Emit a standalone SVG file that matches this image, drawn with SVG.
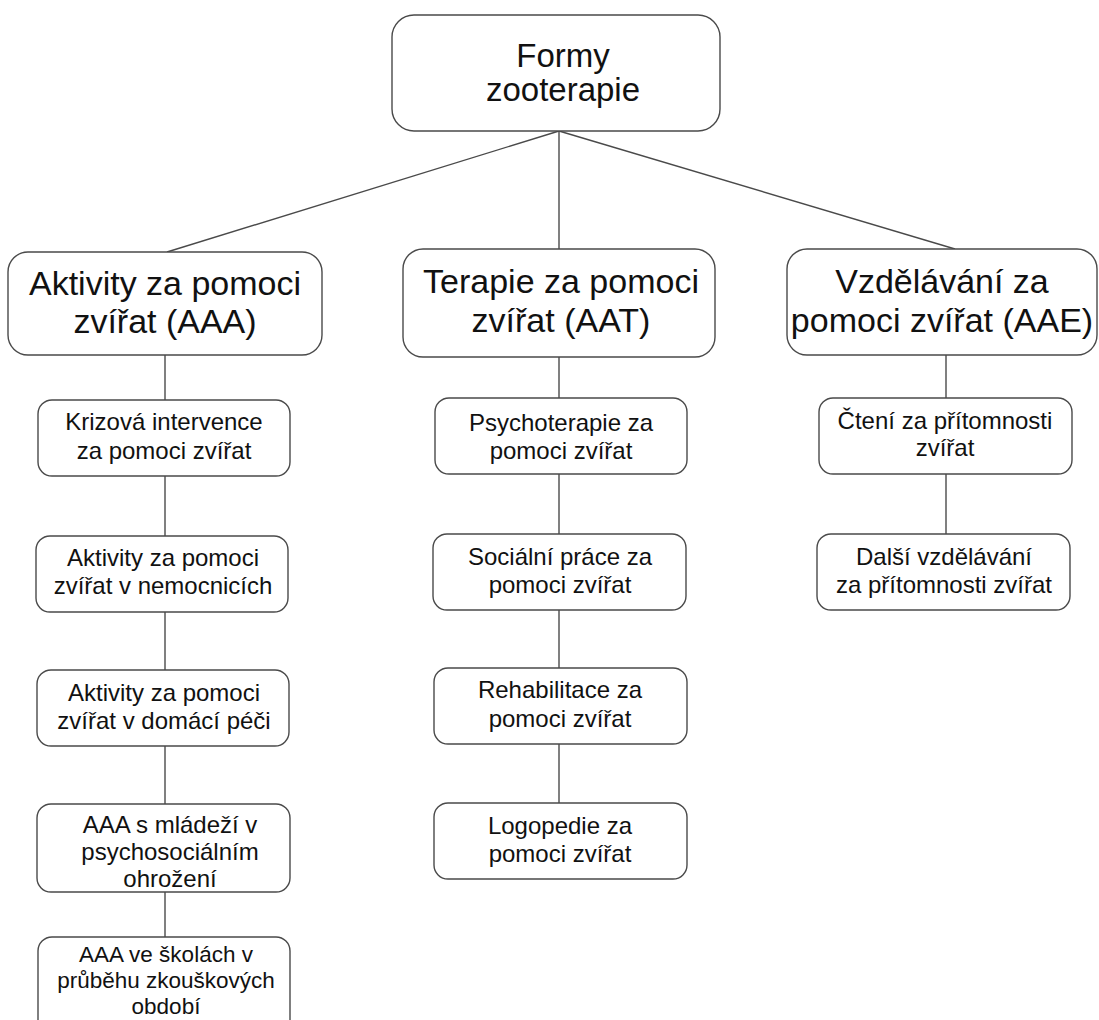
<svg xmlns="http://www.w3.org/2000/svg" width="1099" height="1020" viewBox="0 0 1099 1020">
<style>
.box{fill:#fff;stroke:#4a4a4a;stroke-width:1.4}
.ln{stroke:#4a4a4a;stroke-width:1.4;fill:none}
text{font-family:"Liberation Sans",Arial,sans-serif;fill:#111;text-anchor:middle}
.t1{font-size:33px}
.t2{font-size:34px}
.t3{font-size:24px}
.t4{font-size:22.5px}
</style>
<rect width="1099" height="1020" fill="#fff"/>
<g id="connectors">
<line class="ln" x1="559" y1="131" x2="167" y2="252"/>
<line class="ln" x1="559" y1="131" x2="559" y2="249"/>
<line class="ln" x1="559" y1="131" x2="955" y2="249"/>
<line class="ln" x1="165" y1="355" x2="165" y2="400"/>
<line class="ln" x1="165" y1="476" x2="165" y2="536"/>
<line class="ln" x1="165" y1="612" x2="165" y2="670"/>
<line class="ln" x1="165" y1="746" x2="165" y2="804"/>
<line class="ln" x1="165" y1="892" x2="165" y2="937"/>
<line class="ln" x1="559" y1="357" x2="559" y2="398"/>
<line class="ln" x1="559" y1="474" x2="559" y2="534"/>
<line class="ln" x1="559" y1="610" x2="559" y2="668"/>
<line class="ln" x1="559" y1="744" x2="559" y2="803"/>
<line class="ln" x1="946" y1="355" x2="946" y2="398"/>
<line class="ln" x1="946" y1="474" x2="946" y2="534"/>
</g>
<g id="root">
<rect class="box" x="392" y="15" width="328" height="116" rx="22"/>
<text class="t1" x="563" y="67">Formy</text>
<text class="t1" x="563" y="101">zooterapie</text>
</g>
<g id="aaa">
<rect class="box" x="8" y="252" width="314" height="103" rx="20"/>
<text class="t2" x="165" y="295">Aktivity za pomoci</text>
<text class="t2" x="165" y="333">zvířat (AAA)</text>
</g>
<g id="aat">
<rect class="box" x="403" y="249" width="312" height="108" rx="20"/>
<text class="t2" x="561" y="293">Terapie za pomoci</text>
<text class="t2" x="561" y="332">zvířat (AAT)</text>
</g>
<g id="aae">
<rect class="box" x="787" y="249" width="310" height="106" rx="20"/>
<text class="t2" x="942" y="293">Vzdělávání za</text>
<text class="t2" x="942" y="332">pomoci zvířat (AAE)</text>
</g>
<g id="aaa1">
<rect class="box" x="38" y="400" width="252" height="76" rx="14"/>
<text class="t3" x="164" y="430">Krizová intervence</text>
<text class="t3" x="164" y="459">za pomoci zvířat</text>
</g>
<g id="aaa2">
<rect class="box" x="36" y="536" width="252" height="76" rx="14"/>
<text class="t3" x="163" y="566">Aktivity za pomoci</text>
<text class="t3" x="163" y="594">zvířat v nemocnicích</text>
</g>
<g id="aaa3">
<rect class="box" x="37" y="670" width="252" height="76" rx="14"/>
<text class="t3" x="164" y="701">Aktivity za pomoci</text>
<text class="t3" x="164" y="729">zvířat v domácí péči</text>
</g>
<g id="aaa4">
<rect class="box" x="37" y="804" width="253" height="88" rx="14"/>
<text class="t3" x="170" y="833">AAA s mládeží v</text>
<text class="t3" x="170" y="860">psychosociálním</text>
<text class="t3" x="170" y="887">ohrožení</text>
</g>
<g id="aaa5">
<rect class="box" x="38" y="937" width="252" height="100" rx="14"/>
<text class="t4" x="166" y="962">AAA ve školách v</text>
<text class="t4" x="166" y="988">průběhu zkouškových</text>
<text class="t4" x="166" y="1014">období</text>
</g>
<g id="aat1">
<rect class="box" x="435" y="398" width="252" height="76" rx="14"/>
<text class="t3" x="561" y="431">Psychoterapie za</text>
<text class="t3" x="561" y="459">pomoci zvířat</text>
</g>
<g id="aat2">
<rect class="box" x="433" y="534" width="253" height="76" rx="14"/>
<text class="t3" x="560" y="565">Sociální práce za</text>
<text class="t3" x="560" y="593">pomoci zvířat</text>
</g>
<g id="aat3">
<rect class="box" x="434" y="668" width="253" height="76" rx="14"/>
<text class="t3" x="560" y="698">Rehabilitace za</text>
<text class="t3" x="560" y="727">pomoci zvířat</text>
</g>
<g id="aat4">
<rect class="box" x="434" y="803" width="253" height="76" rx="14"/>
<text class="t3" x="560" y="834">Logopedie za</text>
<text class="t3" x="560" y="862">pomoci zvířat</text>
</g>
<g id="aae1">
<rect class="box" x="819" y="398" width="253" height="76" rx="14"/>
<text class="t3" x="945" y="429">Čtení za přítomnosti</text>
<text class="t3" x="945" y="456">zvířat</text>
</g>
<g id="aae2">
<rect class="box" x="817" y="534" width="253" height="76" rx="14"/>
<text class="t3" x="944" y="565">Další vzdělávání</text>
<text class="t3" x="944" y="593">za přítomnosti zvířat</text>
</g>
</svg>
